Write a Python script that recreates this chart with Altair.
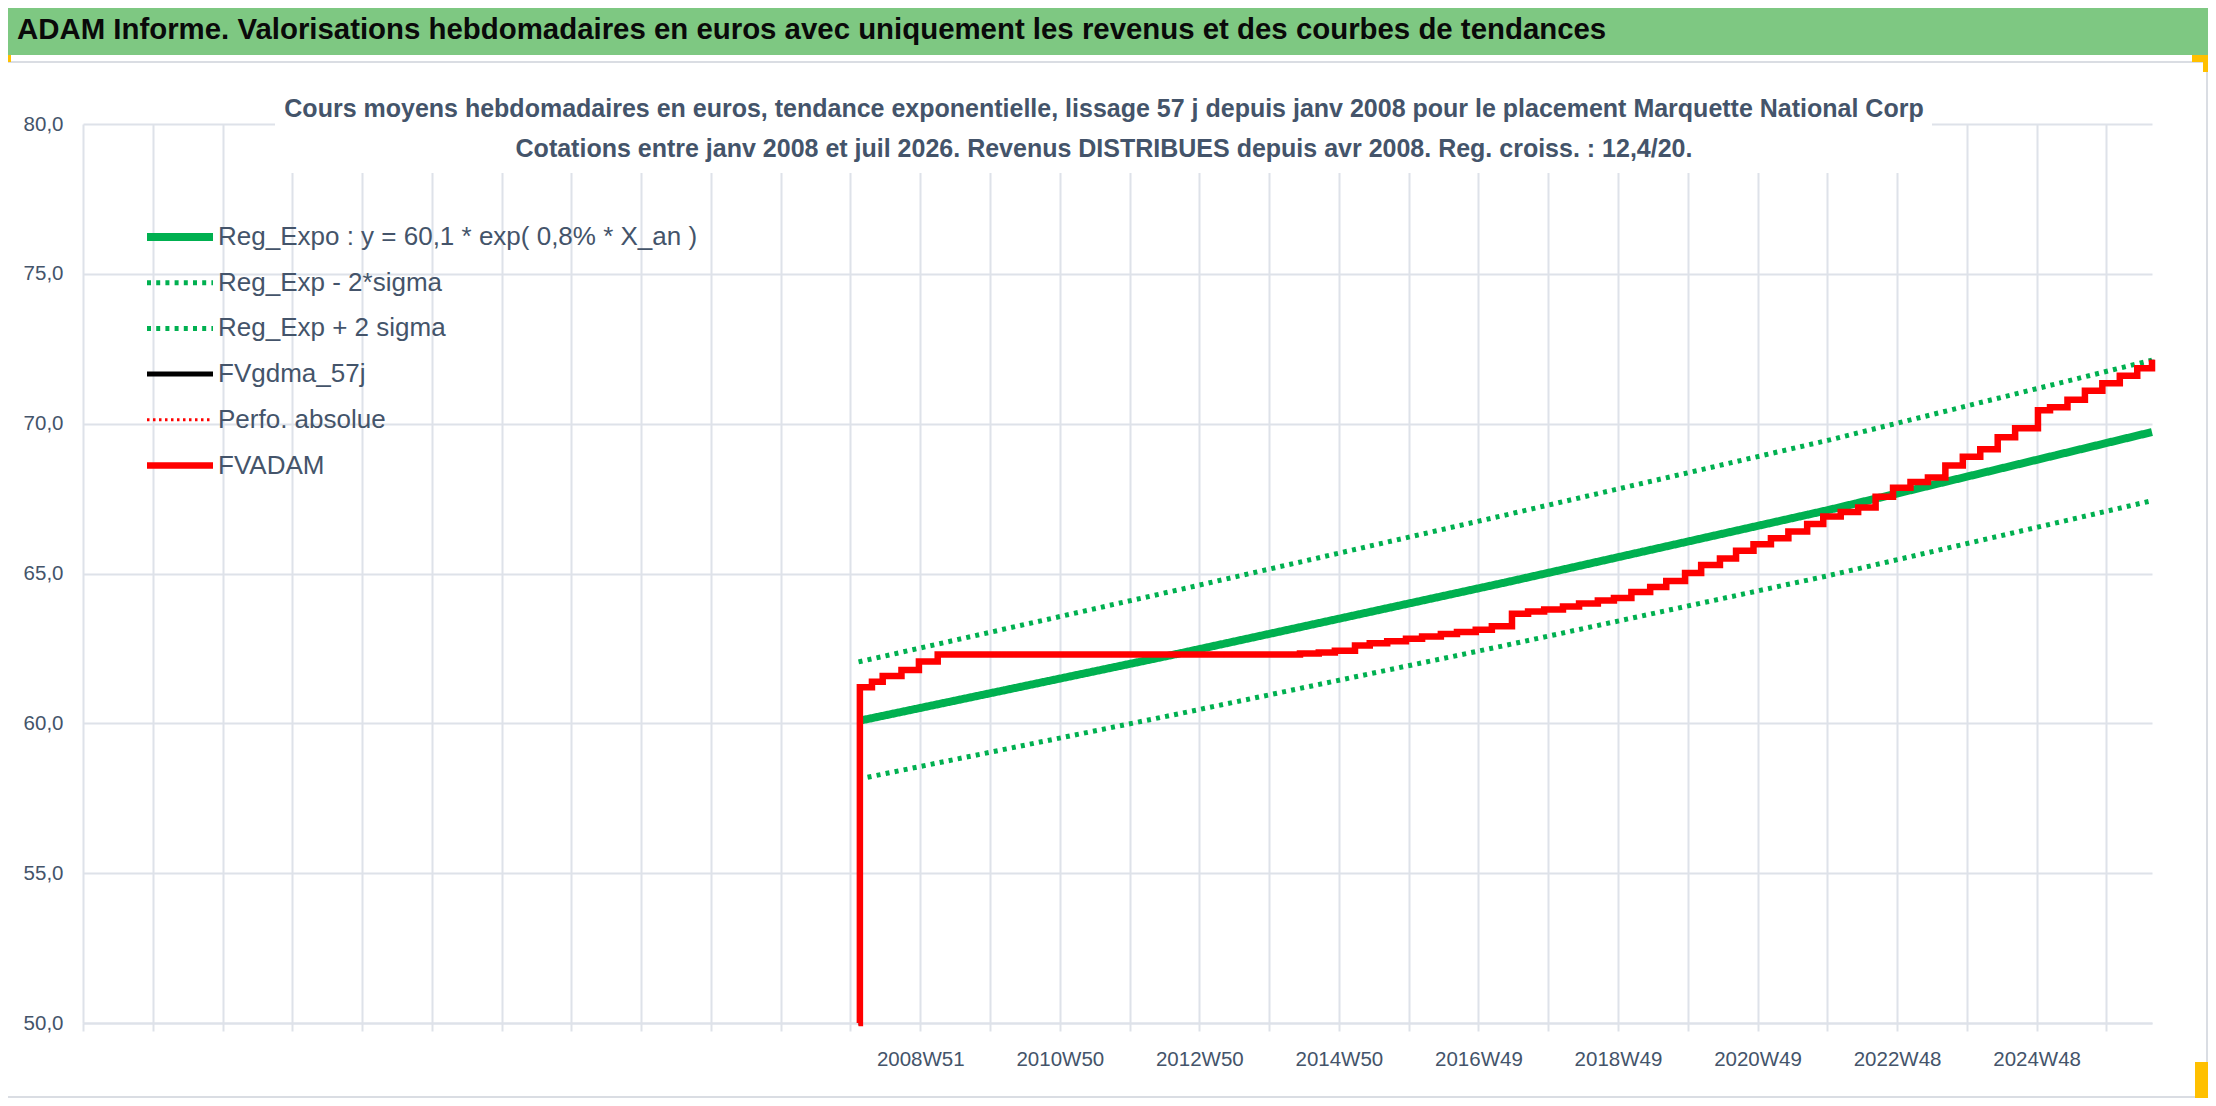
import altair as alt
import pandas as pd

# ---------------- data ----------------
SERIES = [
    "Reg_Expo : y = 60,1 * exp( 0,8% *  X_an )",
    "Reg_Exp - 2*sigma",
    "Reg_Exp + 2 sigma",
    "FVgdma_57j",
    "Perfo. absolue",
    "FVADAM",
]
COLORS = ["#00B050", "#00B050", "#00B050", "#000000", "#FF0000", "#FF0000"]
DASHES = [[1, 0], [4, 5.2], [4, 5.2], [1, 0], [2.5, 3.5], [1, 0]]
WIDTHS = [8, 5, 5, 5, 3, 6.5]

# week index on the category axis (0 = first category of the axis)
TREND_WEEKS = [578, 819, 1060, 1301, 1542]
REG_EXPO = [60.08, 62.35, 64.70, 67.12, 69.72]
REG_MINUS = [58.14, 60.34, 62.60, 64.93, 67.43]
REG_PLUS = [62.05, 64.48, 66.95, 69.45, 72.12]

FV_WEEKS = [578, 579, 588, 596, 610, 623, 637, 895, 907, 921, 933, 948, 959, 972,
            986, 998, 1012, 1024, 1038, 1050, 1065, 1077, 1089, 1103, 1115, 1129,
            1141, 1154, 1168, 1180, 1194, 1206, 1220, 1232, 1245, 1258, 1271, 1285,
            1297, 1310, 1323, 1336, 1349, 1362, 1375, 1388, 1401, 1414, 1427, 1440,
            1457, 1466, 1479, 1492, 1505, 1518, 1531, 1542]
FVADAM = [50.0, 61.20, 61.39, 61.58, 61.78, 62.06, 62.30, 62.30, 62.33, 62.36, 62.42,
          62.60, 62.67, 62.74, 62.82, 62.90, 62.98, 63.05, 63.12, 63.24, 63.66, 63.73,
          63.80, 63.90, 64.00, 64.10, 64.18, 64.38, 64.55, 64.75, 65.02, 65.28, 65.50,
          65.76, 65.98, 66.18, 66.40, 66.65, 66.90, 67.05, 67.20, 67.56, 67.86, 68.05,
          68.20, 68.60, 68.90, 69.15, 69.55, 69.85, 70.45, 70.55, 70.80, 71.10, 71.35,
          71.60, 71.85, 72.13]
# FVgdma_57j lies under FVADAM in the picture (only tiny black edges visible)
FVGDMA = FVADAM

GRID_WEEKS = [52 * k for k in range(30)]
LABEL_WEEKS = [624, 728, 832, 936, 1040, 1144, 1248, 1352, 1456]
LABEL_TEXT = ["2008W51", "2010W50", "2012W50", "2014W50", "2016W49",
              "2018W49", "2020W49", "2022W48", "2024W48"]
Y_TICKS = [50, 55, 60, 65, 70, 75, 80]
X_DOMAIN = [0, 1542]
Y_DOMAIN = [50, 80]

HEADER = ("ADAM Informe. Valorisations hebdomadaires en euros avec uniquement "
          "les revenus et des courbes de tendances")
SUB1 = ("Cours moyens hebdomadaires en euros, tendance exponentielle, lissage 57 j "
        "depuis janv 2008 pour le placement Marquette National Corp")
SUB2 = ("Cotations entre janv 2008 et juil 2026. Revenus DISTRIBUES depuis avr 2008. "
        "Reg. croiss. : 12,4/20.")

# ---------------- styles ----------------
FONT = "Liberation Sans"
SLATE = "#44546A"
GRID = "#DEE2E9"
W, H = 2069, 899

# ---------------- tables ----------------
trend_df = pd.concat([
    pd.DataFrame({"series": SERIES[0], "week": TREND_WEEKS, "value": REG_EXPO}),
    pd.DataFrame({"series": SERIES[1], "week": TREND_WEEKS, "value": REG_MINUS}),
    pd.DataFrame({"series": SERIES[2], "week": TREND_WEEKS, "value": REG_PLUS}),
])
gdma_df = pd.DataFrame({"series": SERIES[3], "week": FV_WEEKS, "value": FVGDMA})
adam_df = pd.DataFrame({"series": SERIES[5], "week": FV_WEEKS, "value": FVADAM})

label_arr = [""] * len(GRID_WEEKS)
for wk, txt in zip(LABEL_WEEKS, LABEL_TEXT):
    label_arr[round(wk / 52)] = txt
label_expr = "[" + ",".join("'" + t + "'" for t in label_arr) + "][round(datum.value/52)]"

x_enc = alt.X(
    "week:Q",
    scale=alt.Scale(domain=X_DOMAIN, nice=False, zero=False),
    axis=alt.Axis(
        values=GRID_WEEKS, labelExpr=label_expr, title=None, grid=True,
        gridColor=GRID, gridWidth=2, tickColor=GRID, tickWidth=2, tickSize=8,
        domainColor=GRID, domainWidth=2, labelFont=FONT, labelFontSize=20.5,
        labelColor=SLATE, labelPadding=18, labelFlush=False, labelOverlap=False,
    ),
)
y_enc = alt.Y(
    "value:Q",
    scale=alt.Scale(domain=Y_DOMAIN, nice=False, zero=False),
    axis=alt.Axis(
        values=Y_TICKS, labelExpr="replace(format(datum.value, '.1f'), '.', ',')",
        title=None, grid=True, gridColor=GRID, gridWidth=2, ticks=False,
        domain=False, labelFont=FONT, labelFontSize=20.5, labelColor=SLATE,
        labelPadding=20,
    ),
)
legend = alt.Legend(
    title=None, orient="none", legendX=60, legendY=93, symbolType="stroke",
    symbolSize=4356, clipHeight=40, rowPadding=5.7, labelFont=FONT,
    labelFontSize=26, labelColor=SLATE, labelLimit=1000, labelOffset=1,
    symbolOffset=0, padding=0,
)
color_enc = alt.Color("series:N", scale=alt.Scale(domain=SERIES, range=COLORS), legend=legend)
dash_enc = alt.StrokeDash("series:N", scale=alt.Scale(type="ordinal", domain=SERIES, range=DASHES), legend=legend)
width_enc = alt.StrokeWidth("series:N", scale=alt.Scale(type="ordinal", domain=SERIES, range=WIDTHS), legend=legend)


def one():
    return pd.DataFrame({"a": [0]})


def rect(x, x2, y, y2, color):
    return alt.Chart(one()).mark_rect(color=color).encode(
        x=alt.value(x), x2=alt.value(x2), y=alt.value(y), y2=alt.value(y2))


# decorations (Excel sheet header band, panel borders, title box)
header_band = rect(-75, 2125, -116, -69, "#7EC882")
sep_line = rect(-75, 2124, -63, -61, "#DADDE3")
right_border = rect(2123, 2125, -62, 974, "#DADDE3")
bottom_border = rect(-75, 2125, 972, 974, "#DADDE3")
yellow1 = rect(-75, -72, -69, -62, "#FFC000")
yellow2 = rect(2109, 2125, -69, -62, "#FFC000")
yellow3 = rect(2120, 2125, -62, -52, "#FFC000")
yellow4 = rect(2112, 2125, 938, 974, "#FFC000")
title_box = rect(192, 1849, -60, 49, "#FFFFFF")

header_text = alt.Chart(pd.DataFrame({"t": [HEADER]})).mark_text(
    font=FONT, fontSize=29.4, fontWeight="bold", color="#0A0A0A", align="left",
    baseline="alphabetic"
).encode(x=alt.value(-66), y=alt.value(-85), text="t:N")
sub1 = alt.Chart(pd.DataFrame({"t": [SUB1]})).mark_text(
    font=FONT, fontSize=25, fontWeight="bold", color=SLATE, align="center",
    baseline="alphabetic"
).encode(x=alt.value(1021), y=alt.value(-7), text="t:N")
sub2 = alt.Chart(pd.DataFrame({"t": [SUB2]})).mark_text(
    font=FONT, fontSize=25, fontWeight="bold", color=SLATE, align="center",
    baseline="alphabetic"
).encode(x=alt.value(1021), y=alt.value(33), text="t:N")

trend_lines = alt.Chart(trend_df).mark_line().encode(
    x=x_enc, y=y_enc, color=color_enc, strokeDash=dash_enc, strokeWidth=width_enc,
    order="week:Q")
gdma_line = alt.Chart(gdma_df).mark_line(interpolate="step-after").encode(
    x=x_enc, y=y_enc, color=color_enc, strokeDash=dash_enc, strokeWidth=width_enc,
    order="week:Q")
adam_line = alt.Chart(adam_df).mark_line(interpolate="step-after").encode(
    x=x_enc, y=y_enc, color=color_enc, strokeDash=dash_enc, strokeWidth=width_enc,
    order="week:Q")

chart = alt.layer(
    header_band, sep_line, right_border, bottom_border, yellow1, yellow2, yellow3,
    yellow4, trend_lines, gdma_line, adam_line, title_box, header_text, sub1, sub2,
).properties(
    width=W, height=H,
    autosize=alt.AutoSizeParams(type="none"),
    padding={"left": 75, "top": 116, "right": 56, "bottom": 75},
    background="#FFFFFF",
).configure_view(stroke=None)

chart.save("out.html", embed_options={"renderer": "svg", "actions": False})
